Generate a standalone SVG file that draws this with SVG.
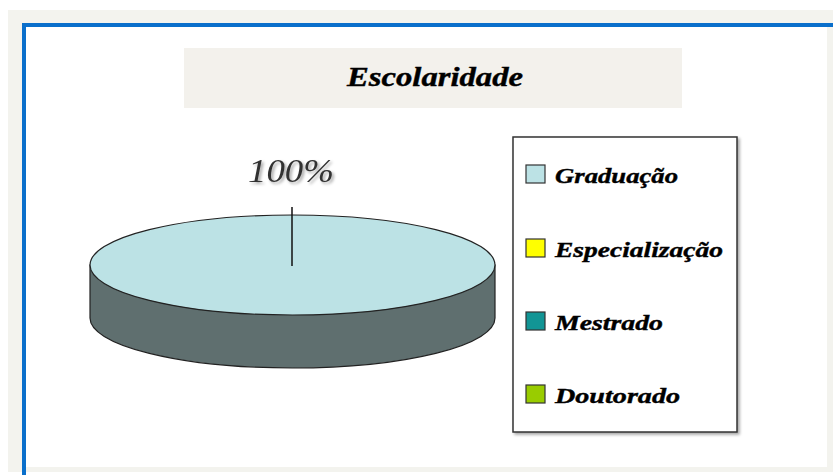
<svg xmlns="http://www.w3.org/2000/svg" width="833" height="475" viewBox="0 0 833 475">
  <defs>
    <style>
      .lbl { font-family: "Liberation Serif", "DejaVu Serif", serif; font-weight: bold; font-style: italic; fill: #000; }
      .sw { stroke: #333; stroke-width: 1.2; }
    </style>
    <filter id="sh" x="-20%" y="-30%" width="140%" height="160%">
      <feDropShadow dx="2" dy="2" stdDeviation="1.5" flood-color="#000" flood-opacity="0.35"/>
    </filter>
  </defs>
  <rect x="0" y="0" width="833" height="475" fill="#ffffff"/>
  <!-- outer frame -->
  <rect x="8" y="10" width="825" height="462" fill="#f3f3ee"/>
  <rect x="26" y="27" width="801" height="440" fill="#ffffff"/>
  <line x1="22" y1="25" x2="833" y2="25" stroke="#0a6fcb" stroke-width="4"/>
  <line x1="24" y1="23" x2="24" y2="475" stroke="#0a6fcb" stroke-width="4"/>

  <g id="title">
    <rect x="184" y="48" width="498" height="60" fill="#f3f1ec"/>
    <text x="435" y="86" class="lbl" font-size="27" text-anchor="middle" textLength="176" lengthAdjust="spacingAndGlyphs" stroke="#000" stroke-width="0.4">Escolaridade</text>
  </g>

  <g id="pie">
    <path d="M90,265 V318 A202.5,50 0 0 0 495,318 V265 Z" fill="#5f6f6f" stroke="#222" stroke-width="1.2"/>
    <ellipse cx="292.5" cy="265" rx="202.5" ry="50" fill="#bce2e5" stroke="#222" stroke-width="1.2"/>
  </g>

  <g id="connectors">
    <line x1="292" y1="207" x2="292" y2="266" stroke="#111" stroke-width="1.5"/>
  </g>

  <g id="label-100">
    <text x="291" y="182" font-family="Liberation Serif, DejaVu Serif, serif" font-style="italic" font-size="34" fill="#333" text-anchor="middle" textLength="86" lengthAdjust="spacingAndGlyphs" filter="url(#sh)">100%</text>
  </g>

  <g id="legend">
    <rect x="513" y="137" width="224" height="295" fill="#ffffff" stroke="#333" stroke-width="1.5" filter="url(#sh)"/>
    <g id="leg-graduacao">
      <rect x="526" y="165" width="19" height="18" fill="#bce2e5" class="sw"/>
      <text x="555" y="183" class="lbl" font-size="22" textLength="123" lengthAdjust="spacingAndGlyphs" stroke="#000" stroke-width="0.4">Graduação</text>
    </g>
    <g id="leg-especializacao">
      <rect x="526" y="239" width="19" height="18" fill="#ffff00" class="sw"/>
      <text x="555" y="257" class="lbl" font-size="22" textLength="168" lengthAdjust="spacingAndGlyphs" stroke="#000" stroke-width="0.4">Especialização</text>
    </g>
    <g id="leg-mestrado">
      <rect x="526" y="312" width="19" height="18" fill="#129595" class="sw"/>
      <text x="555" y="330" class="lbl" font-size="22" textLength="108" lengthAdjust="spacingAndGlyphs" stroke="#000" stroke-width="0.4">Mestrado</text>
    </g>
    <g id="leg-doutorado">
      <rect x="526" y="385" width="19" height="18" fill="#99cc00" class="sw"/>
      <text x="555" y="403" class="lbl" font-size="22" textLength="125" lengthAdjust="spacingAndGlyphs" stroke="#000" stroke-width="0.4">Doutorado</text>
    </g>
  </g>
</svg>
